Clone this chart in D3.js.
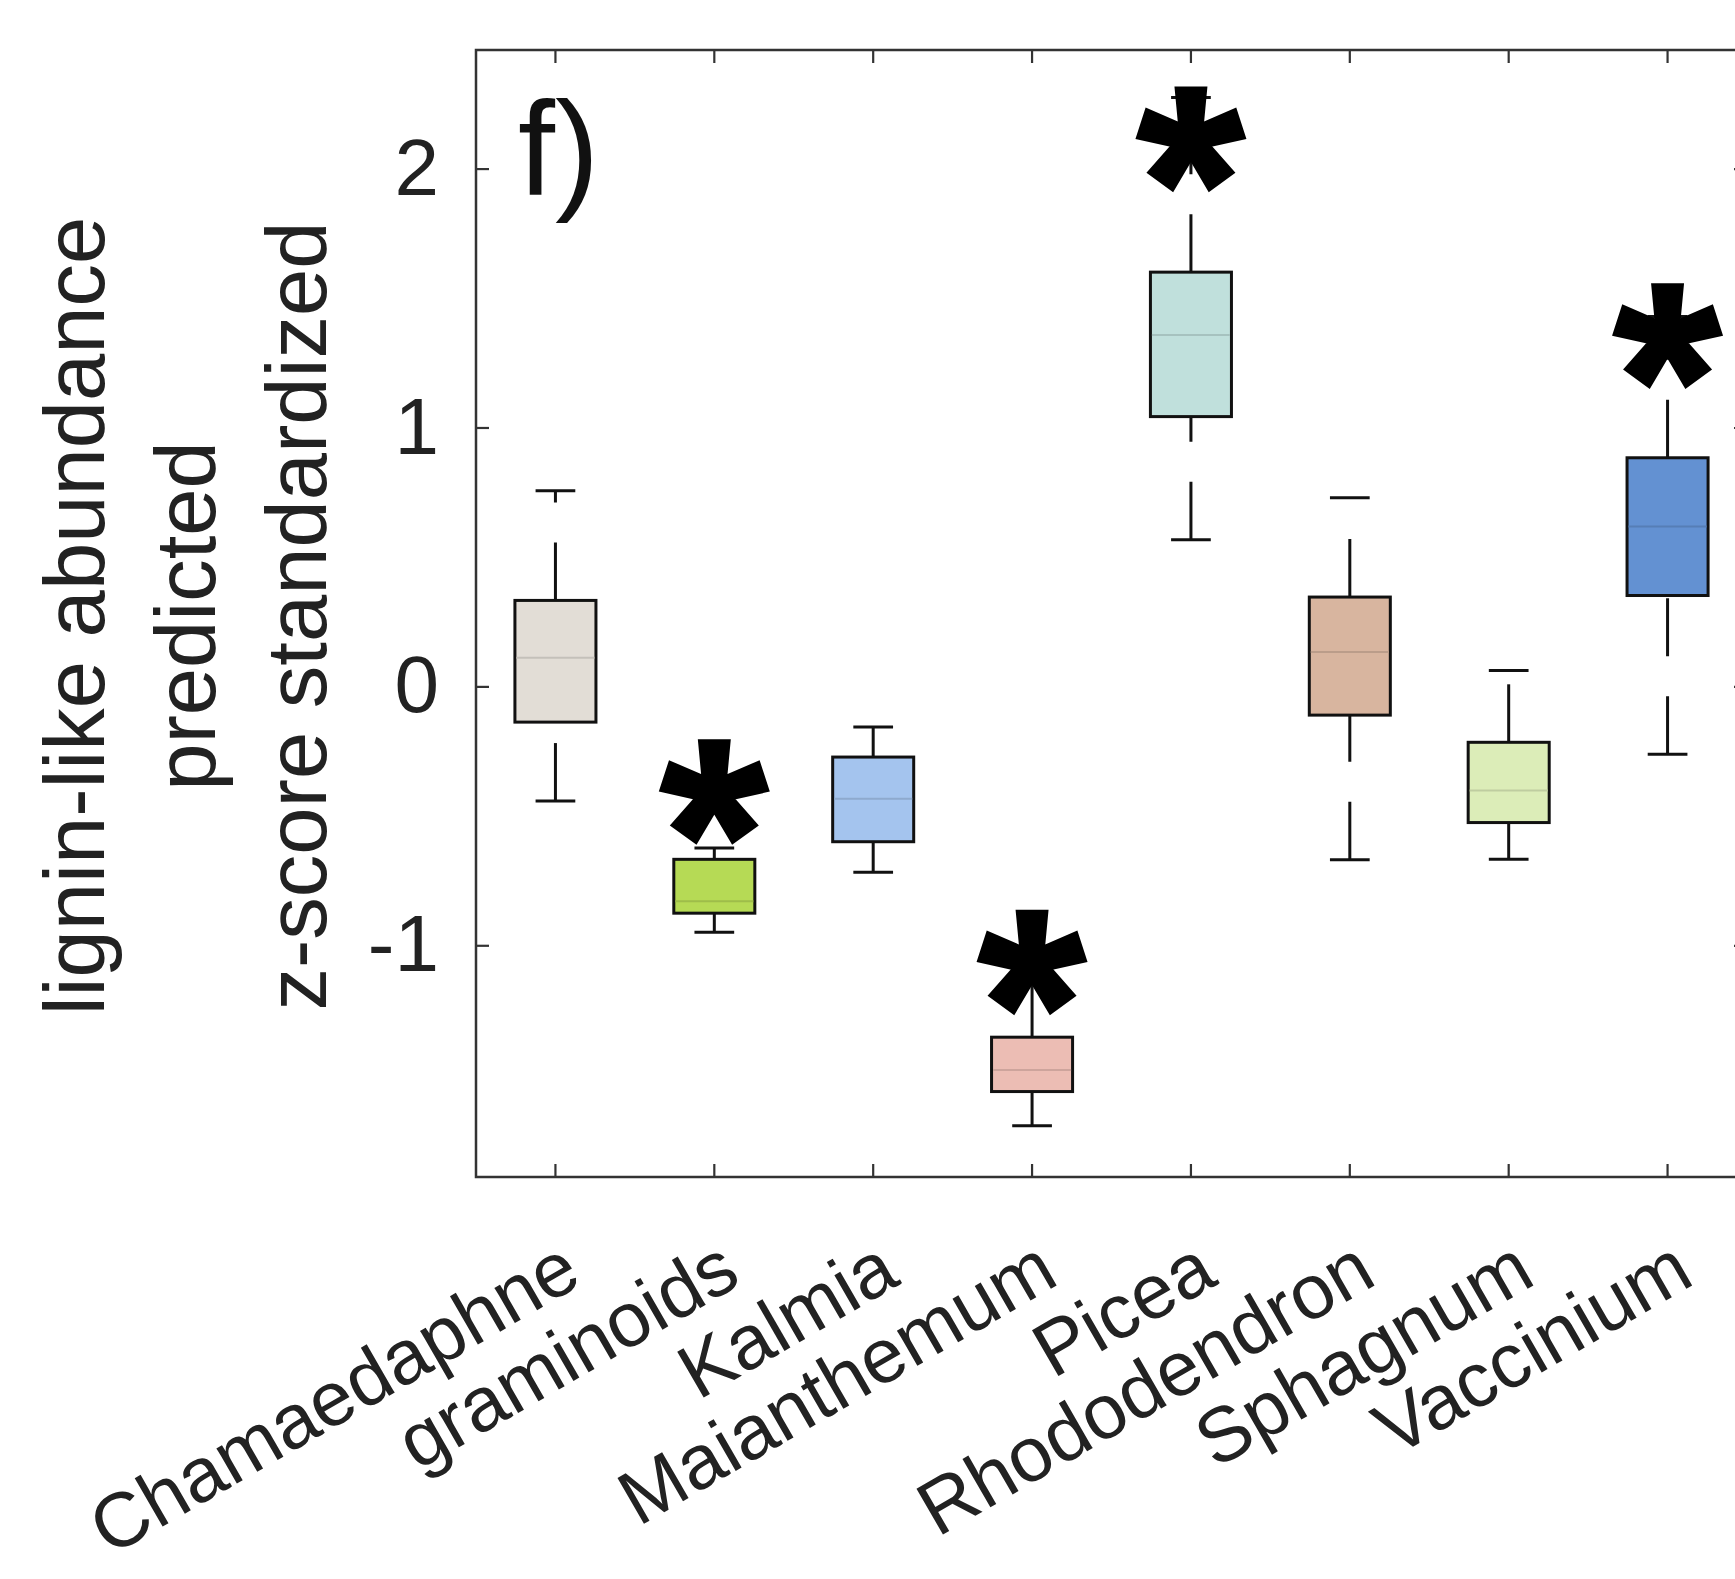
<!DOCTYPE html>
<html>
<head>
<meta charset="utf-8">
<script src="https://cdnjs.cloudflare.com/ajax/libs/d3/7.8.5/d3.min.js"></script>
<style>
  body { margin: 0; background: #fff; }
  svg { display: block; font-family: "Liberation Sans", Arial, sans-serif; }
</style>
</head>
<body>
<svg id="chart" width="1735" height="1579"></svg>
<script>
var categories = ["Chamaedaphne", "graminoids", "Kalmia", "Maianthemum", "Picea", "Rhododendron", "Sphagnum", "Vaccinium"];
var lowerWhisker = [-0.443, -0.950, -0.718, -1.697, 0.566, -0.670, -0.668, -0.262];
var q1 = [-0.138, -0.876, -0.600, -1.565, 1.042, -0.111, -0.526, 0.351];
var median = [0.111, -0.830, -0.434, -1.482, 1.357, 0.133, -0.402, 0.618];
var q3 = [0.332, -0.668, -0.273, -1.355, 1.600, 0.345, -0.216, 0.883];
var upperWhisker = [0.756, -0.624, -0.157, -1.100, 2.275, 0.729, 0.061, 1.429];
// y of the significance asterisk, null = no mark
var sigMarkY = [null, -0.409, null, -1.067, 2.112, null, null, 1.352];
var boxColors = ["#e2ddd6", "#b6da55", "#a4c4ee", "#ecbdb4", "#c0e0dc", "#d8b59f", "#dcedb8", "#6391d2"];
var yTicks = [-1, 0, 1, 2];
var yLabelLines = ["lignin-like abundance", "predicted", "z-score standardized"];
var panelLabel = "f)";

var svg = d3.select("#chart");
var plot = {left: 476, top: 50, right: 1747, bottom: 1177};
var axisColor = "#333";
var textColor = "#222";
var lineW = 3;

var x = d3.scaleBand().domain(categories).range([plot.left, plot.right]);
var y = d3.scaleLinear().domain([-1.895, 2.458]).range([plot.bottom, plot.top]);
var bw = x.bandwidth();
var boxW = bw * 0.51, capW = bw * 0.25;
function cx(i) { return x(categories[i]) + bw / 2; }

function styleAxis(g) {
    g.attr("font-size", 80).attr("font-family", null);
    g.select(".domain").remove();
    g.selectAll(".tick line").attr("stroke", axisColor).attr("stroke-width", 2.2);
    g.selectAll(".tick text").attr("fill", textColor);
}

// frame
svg.append("rect")
    .attr("x", plot.left).attr("y", plot.top)
    .attr("width", plot.right - plot.left).attr("height", plot.bottom - plot.top)
    .attr("fill", "none").attr("stroke", axisColor).attr("stroke-width", 2.5);

svg.append("g")
    .attr("transform", "translate(" + plot.left + ",0)")
    .call(d3.axisLeft(y).tickValues(yTicks).tickSizeInner(-13).tickSizeOuter(0).tickPadding(37)
        .tickFormat(function(d) { return d < 0 ? "-" + Math.abs(d) : String(d); }))
    .call(styleAxis);

svg.append("g")
    .attr("transform", "translate(" + plot.right + ",0)")
    .call(d3.axisRight(y).tickValues(yTicks).tickSizeInner(-13).tickSizeOuter(0).tickFormat(""))
    .call(styleAxis);

svg.append("g")
    .attr("transform", "translate(0," + plot.top + ")")
    .call(d3.axisTop(x).tickSizeInner(-13).tickSizeOuter(0).tickFormat(""))
    .call(styleAxis);

var xAxis = svg.append("g")
    .attr("transform", "translate(0," + plot.bottom + ")")
    .call(d3.axisBottom(x).tickSizeInner(-13).tickSizeOuter(0))
    .call(styleAxis);
xAxis.selectAll(".tick text")
    .attr("font-size", 77)
    .attr("y", 0).attr("dy", 0)
    .attr("text-anchor", "end")
    .attr("transform", "translate(29,106) rotate(-30)");

// boxes
var boxes = svg.append("g").selectAll("g").data(categories).join("g");

boxes.append("line")
    .attr("x1", function(d, i) { return cx(i); })
    .attr("x2", function(d, i) { return cx(i); })
    .attr("y1", function(d, i) { return y(q3[i]); })
    .attr("y2", function(d, i) { return y(upperWhisker[i]); })
    .attr("stroke", "#111").attr("stroke-width", lineW)
    .attr("stroke-dasharray", "58 40");

boxes.append("line")
    .attr("x1", function(d, i) { return cx(i); })
    .attr("x2", function(d, i) { return cx(i); })
    .attr("y1", function(d, i) { return y(lowerWhisker[i]); })
    .attr("y2", function(d, i) { return y(q1[i]); })
    .attr("stroke", "#111").attr("stroke-width", lineW)
    .attr("stroke-dasharray", "58 40");

[upperWhisker, lowerWhisker].forEach(function(arr) {
    boxes.append("line")
        .attr("x1", function(d, i) { return cx(i) - capW / 2; })
        .attr("x2", function(d, i) { return cx(i) + capW / 2; })
        .attr("y1", function(d, i) { return y(arr[i]); })
        .attr("y2", function(d, i) { return y(arr[i]); })
        .attr("stroke", "#111").attr("stroke-width", lineW);
});

boxes.append("rect")
    .attr("x", function(d, i) { return cx(i) - boxW / 2; })
    .attr("y", function(d, i) { return y(q3[i]); })
    .attr("width", boxW)
    .attr("height", function(d, i) { return y(q1[i]) - y(q3[i]); })
    .attr("fill", function(d, i) { return boxColors[i]; })
    .attr("stroke", "#111").attr("stroke-width", lineW);

boxes.append("line")
    .attr("x1", function(d, i) { return cx(i) - boxW / 2 + 1.5; })
    .attr("x2", function(d, i) { return cx(i) + boxW / 2 - 1.5; })
    .attr("y1", function(d, i) { return y(median[i]); })
    .attr("y2", function(d, i) { return y(median[i]); })
    .attr("stroke", function(d, i) { return d3.color(boxColors[i]).darker(0.4); })
    .attr("stroke-width", 2);

// five-armed asterisk, arms widening toward the tips
function asteriskPath(R, a, w) {
    var p = d3.path();
    for (var k = 0; k < 5; k++) {
        var ang = (-90 + 72 * k) * Math.PI / 180;
        var dx = Math.cos(ang), dy = Math.sin(ang);
        var px = -dy, py = dx;
        p.moveTo(px * a, py * a);
        p.lineTo(dx * R + px * w, dy * R + py * w);
        p.lineTo(dx * R - px * w, dy * R - py * w);
        p.lineTo(-px * a, -py * a);
        p.closePath();
    }
    return p.toString();
}

var starD = asteriskPath(53, 11.5, 16.5);
svg.append("g").selectAll("path")
    .data(categories.map(function(c, i) { return i; }).filter(function(i) { return sigMarkY[i] !== null; }))
    .join("path")
    .attr("d", starD)
    .attr("transform", function(i) { return "translate(" + cx(i) + "," + y(sigMarkY[i]) + ")"; })
    .attr("fill", "#000");

// y label, three lines
svg.append("g").selectAll("text").data(yLabelLines).join("text")
    .attr("transform", function(d, i) { return "translate(" + (104 + i * 111) + ",616) rotate(-90)"; })
    .attr("text-anchor", "middle")
    .attr("font-size", 85)
    .attr("fill", textColor)
    .text(function(d) { return d; });

svg.append("text")
    .attr("x", 518).attr("y", 195)
    .attr("font-size", 133)
    .attr("fill", "#111")
    .text(panelLabel);
</script>
</body>
</html>
